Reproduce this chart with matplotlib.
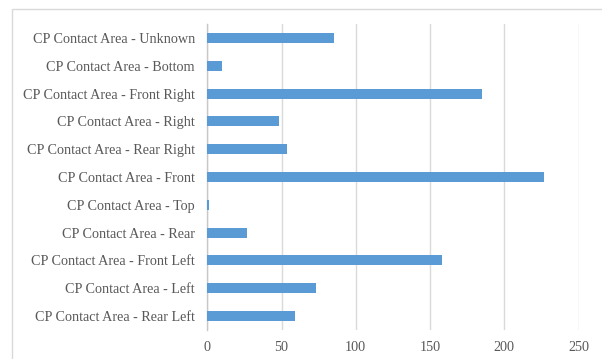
import matplotlib
matplotlib.use("Agg")
import matplotlib.pyplot as plt
from matplotlib.patches import Rectangle

# Contact counts per area (bottom to top as drawn)
areas = [
    "CP Contact Area - Rear Left",
    "CP Contact Area - Left",
    "CP Contact Area - Front Left",
    "CP Contact Area - Rear",
    "CP Contact Area - Top",
    "CP Contact Area - Front",
    "CP Contact Area - Rear Right",
    "CP Contact Area - Right",
    "CP Contact Area - Front Right",
    "CP Contact Area - Bottom",
    "CP Contact Area - Unknown",
]
counts = [59, 73, 158, 27, 1, 227, 54, 48, 185, 10, 85]
xticks = [0, 50, 100, 150, 200, 250]

BAR_COLOR = "#5b9bd5"
TEXT_COLOR = "#595959"
GRID_COLOR = "#d9d9d9"
W, H = 602, 359

fig = plt.figure(figsize=(W / 100, H / 100), dpi=100)
fig.patch.set_facecolor("white")

# outer chart border (runs off the right and bottom edges)
fig.patches.append(Rectangle((12 / W, -0.1), 1.2, (H - 9) / H + 0.1,
                             transform=fig.transFigure, fill=False,
                             edgecolor=GRID_COLOR, linewidth=1.0))

ax = fig.add_axes([207.3 / W, 1 - 330 / H, (578.5 - 207.3) / W, (330 - 24) / H])
ax.barh(range(len(areas)), counts, height=0.36, color=BAR_COLOR, zorder=3)

ax.set_xlim(0, 250)
ax.set_ylim(-0.5, len(areas) - 0.5)
ax.set_xticks(xticks)
ax.set_yticks(range(len(areas)))
ax.set_yticklabels(areas)

for s in ["top", "right", "bottom"]:
    ax.spines[s].set_visible(False)
ax.spines["left"].set_color("#c8c8c8")
ax.spines["left"].set_linewidth(1.0)
ax.grid(axis="x", color=GRID_COLOR, linewidth=1.0, zorder=0)
ax.tick_params(length=0, colors=TEXT_COLOR, labelsize=10.2)
ax.tick_params(axis="y", pad=9)
ax.tick_params(axis="x", pad=8)
for lab in ax.get_xticklabels() + ax.get_yticklabels():
    lab.set_family("Liberation Serif")

fig.savefig("out.png", dpi=100)
